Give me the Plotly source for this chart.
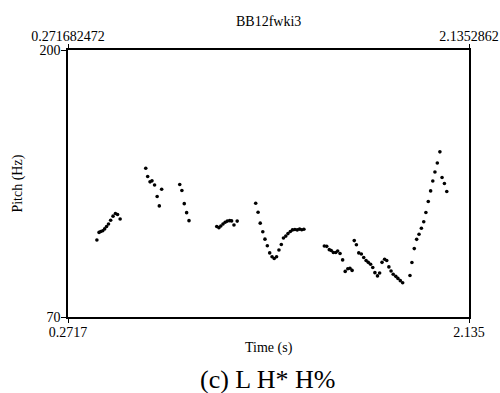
import plotly.graph_objects as go

# Pitch track of BB12fwki3 (time in s, F0 in Hz), voiced stretches only
t_start = 0.271682472
t_end = 2.1352862
f0_min = 70
f0_max = 200

time_s = [
    0.406, 0.416, 0.424, 0.433, 0.442, 0.451, 0.460, 0.470, 0.481, 0.492, 0.502, 0.514,
    0.633, 0.642, 0.653, 0.662, 0.674, 0.686, 0.696, 0.707,
    0.791, 0.801, 0.812, 0.823, 0.834,
    0.963, 0.973, 0.982, 0.992, 1.002, 1.012, 1.023, 1.032, 1.043, 1.058,
    1.144, 1.155, 1.165, 1.177, 1.187, 1.198, 1.209, 1.220, 1.230, 1.241, 1.252,
    1.263, 1.273, 1.284, 1.294, 1.305, 1.315, 1.326, 1.337, 1.348, 1.358, 1.368,
    1.463, 1.474, 1.486, 1.495, 1.505, 1.516, 1.525, 1.536, 1.548, 1.560, 1.572,
    1.582, 1.592,
    1.602, 1.612, 1.623, 1.635, 1.646, 1.657, 1.667, 1.678, 1.688, 1.698, 1.710,
    1.720, 1.731, 1.743, 1.753, 1.763, 1.773, 1.783, 1.795, 1.805, 1.816, 1.827,
    1.861, 1.870, 1.881, 1.892, 1.903, 1.914, 1.925, 1.935, 1.946, 1.957, 1.967,
    1.977, 1.988, 2.000, 2.010, 2.021, 2.032,
]

pitch_hz = [
    107.5, 111.2, 111.6, 112.0, 112.9, 114.1, 115.3, 117.1, 119.1, 120.4, 119.9, 117.7,
    142.4, 138.4, 135.8, 136.3, 134.3, 128.7, 124.1, 132.2,
    134.5, 131.6, 125.2, 120.8, 116.9,
    114.1, 113.5, 114.3, 115.3, 116.1, 116.7, 116.9, 116.8, 114.8, 116.7,
    125.4, 121.0, 115.7, 111.5, 107.9, 104.7, 101.2, 99.3, 98.5, 99.3, 102.6,
    105.3, 108.5, 109.4, 110.6, 111.6, 112.4, 112.6, 112.4, 112.8, 112.5, 112.7,
    104.6, 104.4, 102.8, 102.4, 101.4, 101.4, 102.1, 100.9, 97.8, 92.2, 93.5,
    93.7, 92.7,
    107.2, 105.2, 101.2, 100.7, 99.0, 97.5, 96.6, 95.7, 94.1, 91.6, 90.0,
    91.4, 96.6, 98.1, 97.5, 94.4, 92.4, 90.8, 89.8, 88.8, 87.7, 86.7,
    90.2, 96.5, 103.3, 107.8, 110.3, 113.2, 116.4, 120.9, 126.2, 131.4, 136.2,
    140.6, 145.0, 150.4, 137.9, 135.0, 131.1,
]

top_tick_text = ["0.271682472", "2.1352862"]
bottom_tick_text = ["0.2717", "2.135"]
y_tick_vals = [f0_min, f0_max]

serif = "Liberation Serif, Times New Roman, serif"
ink = "black"

fig = go.Figure()
fig.add_trace(go.Scatter(
    x=time_s, y=pitch_hz, mode="markers",
    marker=dict(size=3.6, color=ink),
    showlegend=False, hoverinfo="x+y",
))
# same track on the top time axis so that axis gets drawn
fig.add_trace(go.Scatter(
    x=time_s, y=pitch_hz, mode="markers", xaxis="x2",
    marker=dict(size=3.6, color=ink, opacity=0),
    showlegend=False, hoverinfo="skip",
))

axis_common = dict(
    showline=True, linecolor=ink, linewidth=1.6,
    ticks="outside", tickwidth=1.4, tickcolor=ink,
    showgrid=False, zeroline=False, automargin=False,
    tickfont=dict(family=serif, size=14, color=ink),
)

fig.update_layout(
    width=500, height=393,
    margin=dict(l=68, r=31, t=50, b=76, autoexpand=False),
    paper_bgcolor="white", plot_bgcolor="white",
    font=dict(family=serif, size=14, color=ink),
    xaxis=dict(
        range=[t_start, t_end], tickvals=[t_start, t_end], ticklen=4,
        ticktext=bottom_tick_text, mirror=True, ticklabelstandoff=-3,
        **axis_common,
    ),
    xaxis2=dict(
        range=[t_start, t_end], tickvals=[t_start, t_end], ticklen=4,
        ticktext=top_tick_text, overlaying="x", side="top", anchor="y",
        ticklabelstandoff=-2, **axis_common,
    ),
    yaxis=dict(
        range=[f0_min, f0_max], tickvals=y_tick_vals, mirror=True,
        ticklen=5, ticklabelstandoff=-2, **axis_common,
    ),
    annotations=[
        dict(text="BB12fwki3", x=0.5, y=1.105, xref="paper", yref="paper",
             showarrow=False, xanchor="center", yanchor="middle",
             font=dict(family=serif, size=14, color=ink)),
        dict(text="Time (s)", x=0.5, y=-0.115, xref="paper", yref="paper",
             showarrow=False, xanchor="center", yanchor="middle",
             font=dict(family=serif, size=14, color=ink)),
        dict(text="Pitch (Hz)", x=-0.127, y=0.5, xref="paper", yref="paper",
             showarrow=False, xanchor="center", yanchor="middle", textangle=-90,
             font=dict(family=serif, size=14, color=ink)),
        dict(text="(c) L H* H%", x=0.4975, y=-0.235, xref="paper", yref="paper",
             showarrow=False, xanchor="center", yanchor="middle",
             font=dict(family=serif, size=26, color=ink)),
    ],
)

fig.write_html("out.html")
